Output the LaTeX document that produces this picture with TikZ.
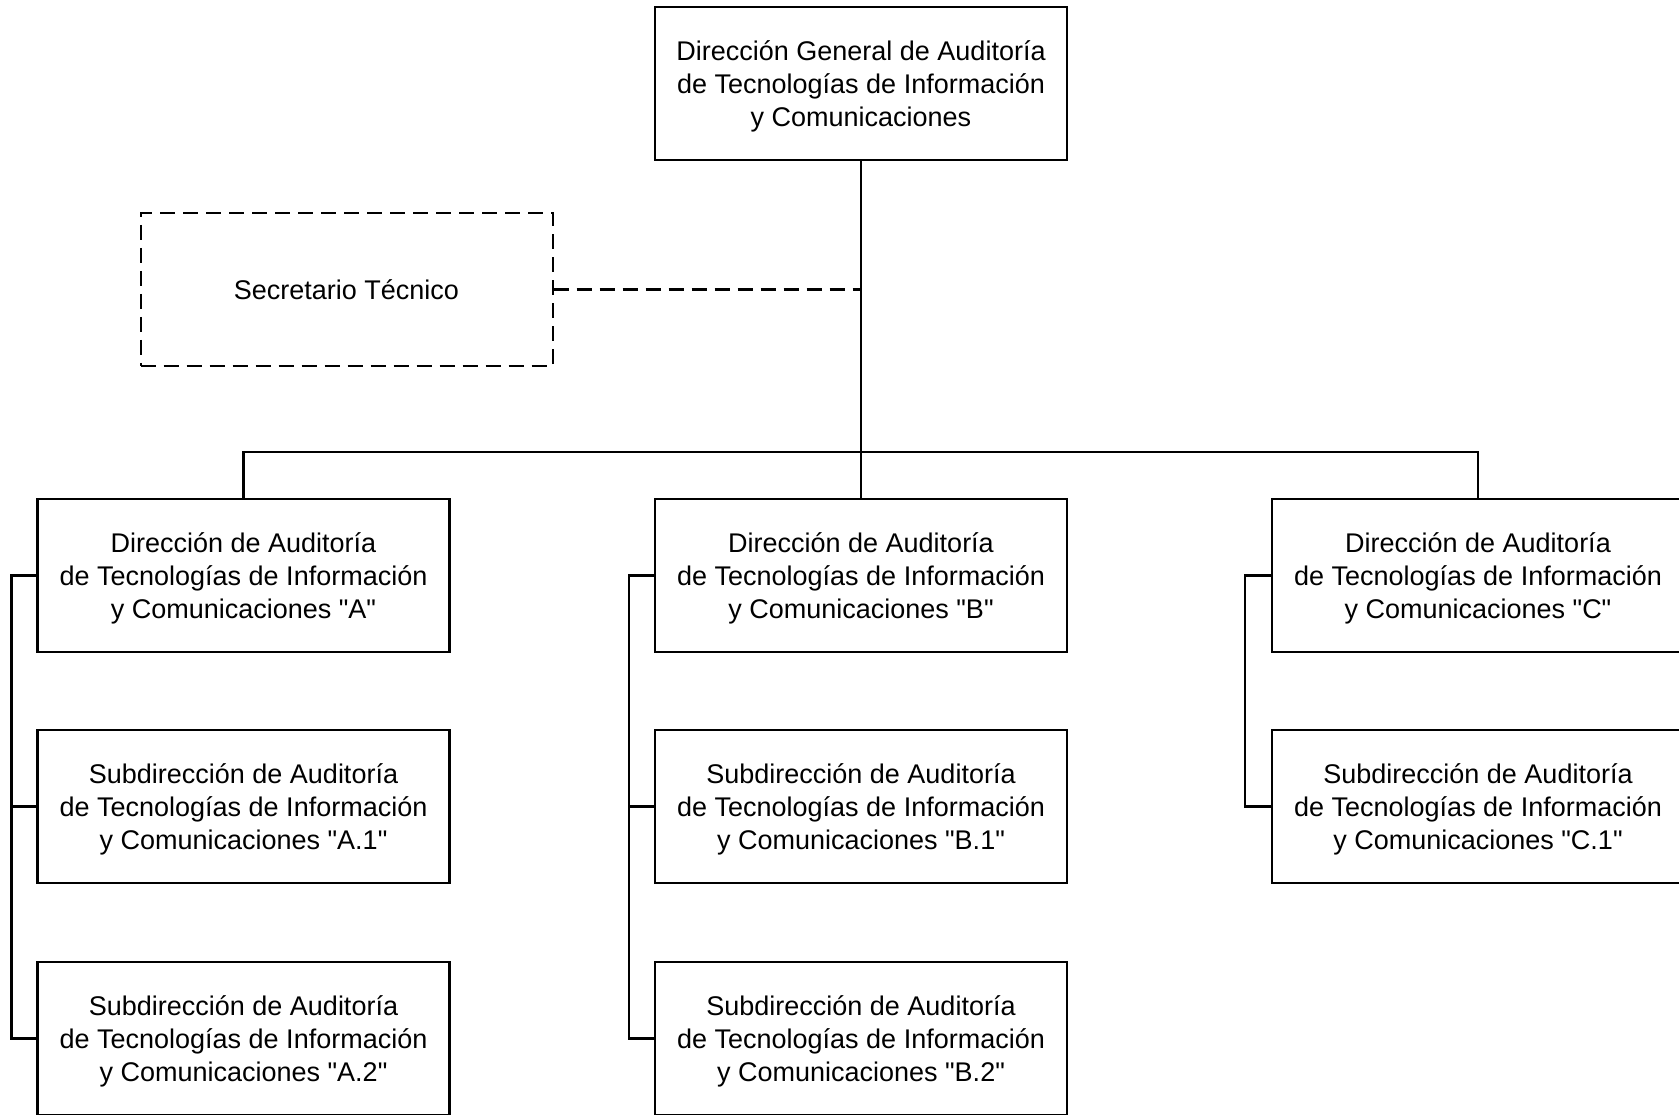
\documentclass[tikz,border=0pt]{standalone}
\usepackage{fontspec}
\setmainfont{Liberation Sans}
\usepackage{tikz}
\usetikzlibrary{positioning}

\newcommand{\qt}[1]{\textquotedbl #1\textquotedbl}

\begin{document}
\begin{tikzpicture}[x=1pt,y=-1pt,
  unit/.style={draw,line width=2.2pt,minimum width=412pt,minimum height=153pt,
    align=center,inner sep=0pt,text depth=0pt,font=\fontsize{27}{33}\selectfont},
  adviser/.style={unit,line width=2pt,dash pattern=on 15pt off 8pt},
  link/.style={line width=2.8pt}]
\useasboundingbox (0,0) rectangle (1679,1115);

\node[unit] (dg) at (861,83.5) {Dirección General de Auditoría\\de Tecnologías de Información\\y Comunicaciones};
\node[adviser] (st) at (346.5,289.5) {Secretario Técnico};

\node[unit] (dA) at (243.5,575.5) {Dirección de Auditoría\\de Tecnologías de Información\\y Comunicaciones \qt{A}};
\node[unit] (dB) at (861,575.5) {Dirección de Auditoría\\de Tecnologías de Información\\y Comunicaciones \qt{B}};
\node[unit] (dC) at (1478,575.5) {Dirección de Auditoría\\de Tecnologías de Información\\y Comunicaciones \qt{C}};

\node[unit] (sA1) at (243.5,806.5) {Subdirección de Auditoría\\de Tecnologías de Información\\y Comunicaciones \qt{A.1}};
\node[unit] (sB1) at (861,806.5) {Subdirección de Auditoría\\de Tecnologías de Información\\y Comunicaciones \qt{B.1}};
\node[unit] (sC1) at (1478,806.5) {Subdirección de Auditoría\\de Tecnologías de Información\\y Comunicaciones \qt{C.1}};

\node[unit] (sA2) at (243.5,1038.5) {Subdirección de Auditoría\\de Tecnologías de Información\\y Comunicaciones \qt{A.2}};
\node[unit] (sB2) at (861,1038.5) {Subdirección de Auditoría\\de Tecnologías de Información\\y Comunicaciones \qt{B.2}};

% main line and bar
\coordinate (bar) at (861,452);
\draw[link] (dg.south) -- (dB.north);
\draw[link] (dA.north) |- (bar) -| (dC.north);
\draw[line width=2.2pt,dash pattern=on 15pt off 8pt] (st.east) -- (st.east -| dg.south);

% brackets
\draw[link] (dA.west) -- ++(-25,0) |- (sA2.west);
\draw[link] (sA1.west) -- ++(-25,0);
\draw[link] (dB.west) -- ++(-25,0) |- (sB2.west);
\draw[link] (sB1.west) -- ++(-25,0);
\draw[link] (dC.west) -- ++(-26,0) |- (sC1.west);
\end{tikzpicture}
\end{document}
